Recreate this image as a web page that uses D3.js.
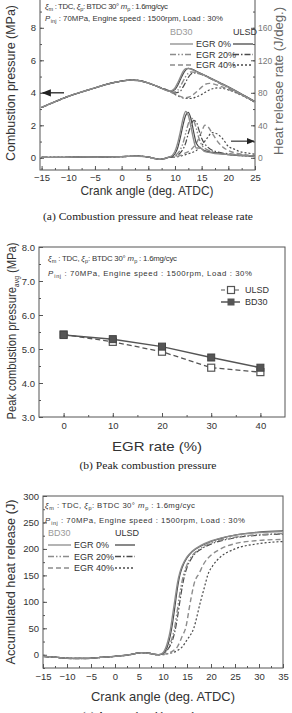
<!DOCTYPE html>
<html>
<head>
<meta charset="UTF-8">
<title>EGR combustion charts</title>
<script src="https://d3js.org/d3.v7.min.js"></script>
<style>
  body { margin: 0; background: #fff; }
  svg { display: block; font-family: "Liberation Sans", Arial, sans-serif; }
  .frame { fill: none; stroke: #555; stroke-width: 1; }
  .axis path { display: none; }
  .axis line { stroke: #555; }
  .axis text { font-size: 9.5px; fill: #333; font-family: "Liberation Sans", Arial, sans-serif; }
  .title { font-size: 13px; fill: #333; }
  .caption { font-family: "Liberation Serif", "Times New Roman", serif; font-size: 11px; fill: #222; }
  .note { font-size: 7.8px; fill: #333; }
  .leg { font-size: 9px; fill: #333; }
</style>
</head>
<body>
<svg id="fig" width="292" height="713"></svg>
<script>
// ---------- (a) combustion pressure (MPa) vs crank angle ----------
const pressMotor = [[-15,3.1],[-12.5,3.45],[-10,3.78],[-7.5,4.05],[-5,4.3],[-2.5,4.55],[0,4.72],[1.5,4.78],[3,4.76],[5,4.6],[7,4.35],[9,4.1]];
const pressBd0  = [[9.5,4.15],[10,4.3],[10.5,4.6],[11,4.95],[11.5,5.3],[12,5.48],[12.5,5.5],[14,5.3],[16,5.0],[18,4.68],[20,4.35],[22,4.0],[25,3.45]];
const pressUl0  = [[9.5,4.12],[10,4.2],[10.5,4.45],[11,4.8],[11.5,5.15],[12,5.4],[12.5,5.5],[13,5.48],[14,5.33],[16,5.02],[18,4.7],[20,4.37],[22,4.02],[25,3.47]];
const pressBd20 = [[9.5,4.05],[10,4.05],[10.5,4.15],[11,4.4],[11.5,4.7],[12,5.0],[12.5,5.2],[13,5.28],[14,5.25],[16,5.0],[18,4.65],[20,4.32],[22,3.98],[25,3.45]];
const pressUl20 = [[9.5,4.03],[10,4.0],[11,4.1],[11.5,4.35],[12,4.65],[12.5,4.95],[13,5.15],[13.5,5.22],[14.5,5.18],[16,4.98],[18,4.65],[20,4.32],[22,3.97],[25,3.43]];
const pressBd40 = [[9.5,4.0],[10,3.92],[11,3.78],[12,3.7],[13,3.78],[14,4.05],[15,4.35],[15.5,4.5],[16.5,4.58],[17.5,4.52],[19,4.35],[20,4.22],[22,3.93],[25,3.45]];
const pressUl40 = [[9.5,4.0],[10,3.9],[11,3.75],[12,3.65],[13,3.65],[14,3.75],[15,3.9],[16,4.1],[17,4.25],[18,4.3],[19,4.27],[20,4.18],[22,3.92],[25,3.42]];

// heat release rate (J/deg.)
const hrrPre  = [[-15,0.5],[-12,0.5],[-9,0.8],[-6,1],[-3,1.2],[0,1.5],[3,2],[4.5,1.5],[6,-0.5],[7,-1.8],[8,-1],[9,1]];
const hrrBd0  = [[9.5,3],[10,8],[10.5,18],[11,32],[11.5,48],[12,57],[12.5,52],[13,38],[13.5,22],[14,12],[14.8,12],[15.5,8],[17,6],[20,4],[23,3],[25,2]];
const hrrUl0  = [[9.5,2],[10,5],[10.5,12],[11,25],[11.5,40],[12,52],[12.5,56],[13,48],[13.5,32],[14,18],[15,11],[16,8],[18,6],[20,4],[25,2]];
const hrrBd20 = [[9.5,1.5],[10,3],[11,10],[11.5,18],[12,30],[12.5,42],[13,49],[13.5,46],[14,36],[14.5,24],[15,16],[16,10],[18,6],[20,4],[25,2]];
const hrrUl20 = [[9.5,1],[10,2],[11,6],[12,18],[12.5,30],[13,40],[13.5,46],[14,44],[14.5,34],[15,24],[16,14],[18,7],[20,5],[25,2]];
const hrrBd40 = [[9.5,0.5],[10,1],[11,3],[12,6],[13,10],[14,18],[15,32],[15.6,40],[16.2,38],[17,30],[18,20],[19,13],[20,9],[22,5],[25,2.5]];
const hrrUl40 = [[9.5,0.5],[10,1],[11,2],[12,4],[13,6],[14,9],[15,15],[16,24],[17,31],[18,29],[19,23],[20,14],[21,11],[22,8],[23.5,6],[25,4.5]];

// ---------- (b) peak combustion pressure ----------
const egrRates = [0, 10, 20, 30, 40];
const peakUlsd = [5.43, 5.21, 4.92, 4.45, 4.32];
const peakBd30 = [5.41, 5.29, 5.07, 4.75, 4.45];

// ---------- (c) accumulated heat release (J) ----------
const cumPre  = [[-15,-3],[-12,-5],[-9,-7],[-6,-7],[-3,-5],[0,-3],[3,0],[5.5,4],[7,3],[9,0]];
const cumBd0  = [[10,4],[11,25],[11.5,45],[12,75],[12.5,105],[13,135],[13.5,155],[14,168],[15,185],[16,195],[18,207],[20,215],[25,226],[30,231],[35,233]];
const cumUl0  = [[10,3],[11,18],[11.5,35],[12,60],[12.5,92],[13,125],[13.5,150],[14,165],[15,183],[16,194],[18,206],[20,214],[25,226],[30,232],[35,234]];
const cumBd20 = [[10,2],[11,12],[12,35],[12.5,55],[13,85],[13.5,115],[14,140],[14.5,158],[15,170],[16,186],[18,202],[20,211],[25,222],[30,227],[35,229]];
const cumUl20 = [[10,2],[11,10],[12,28],[12.5,45],[13,70],[13.5,100],[14,128],[14.5,150],[15,165],[16,183],[18,200],[20,209],[25,221],[30,226],[35,228]];
const cumBd40 = [[10,1],[11,3],[12,7],[13,15],[14,35],[14.7,50],[15.7,100],[16.5,135],[17.6,155],[18.5,172],[20,188],[22,200],[25,210],[30,216],[35,218]];
const cumUl40 = [[10,0],[11,2],[12,4],[13,8],[14,15],[15,28],[16.4,50],[17.8,100],[18.7,130],[19.3,150],[20.5,170],[22,185],[25,200],[30,210],[35,214]];

const legendRows = ["EGR 0%", "EGR 20%", "EGR 40%"];

const BD = "#8c8c8c", UL = "#4a4a4a";
const dashes = {
  bd: [null, "6,2,1.5,2,1.5,2", "5,3"],
  ul: [null, "6,2,1.5,2", "2,2"]
};

const svg = d3.select("#fig");
svg.append("rect").attr("width", 292).attr("height", 713).attr("fill", "#fff");

const defs = svg.append("defs");
defs.append("marker").attr("id", "arr").attr("viewBox", "0 0 10 10")
  .attr("refX", 9).attr("refY", 5).attr("markerWidth", 7).attr("markerHeight", 7)
  .attr("orient", "auto")
  .append("path").attr("d", "M0,1 L10,5 L0,9 Z").attr("fill", "#222");

function axisG(call, tx, ty) {
  return svg.append("g").attr("class", "axis")
    .attr("transform", `translate(${tx},${ty})`).call(call);
}

function vText(x, y, len, build) {
  const t = svg.append("text").attr("class", "title")
    .attr("transform", `translate(${x},${y}) rotate(-90)`)
    .attr("text-anchor", "middle")
    .attr("textLength", len).attr("lengthAdjust", "spacingAndGlyphs");
  build(t);
  return t;
}

// symbol with a subscript, as one text line
function sym(t, s, sub, rest) {
  t.append("tspan").attr("font-style", "italic").text(s);
  t.append("tspan").attr("font-size", "5.5px").attr("dx", 0.5).attr("dy", 2).text(sub);
  t.append("tspan").attr("dy", -2).text(rest);
}

function header(x, y1, y2, len1, len2) {
  const t1 = svg.append("text").attr("class", "note").attr("x", x).attr("y", y1)
    .attr("textLength", len1).attr("lengthAdjust", "spacing");
  sym(t1, "ξ", "m", " : TDC, ");
  sym(t1, "ξ", "p", ": BTDC 30° ");
  sym(t1, "m", "p", " : 1.6mg/cyc");

  const t2 = svg.append("text").attr("class", "note").attr("x", x).attr("y", y2)
    .attr("textLength", len2).attr("lengthAdjust", "spacing");
  sym(t2, "P", "inj", " : 70MPa, Engine speed : 1500rpm, Load : 30%");
}

function lineLegend(x0, yHead, rowYs, textX, x1) {
  svg.append("text").attr("class", "leg").attr("x", x0).attr("y", yHead + 3)
    .style("fill", "#9a9a9a").text("BD30");
  svg.append("text").attr("class", "leg").attr("x", x1).attr("y", yHead + 3)
    .style("fill", "#333").text("ULSD");
  legendRows.forEach((lab, i) => {
    const y = rowYs[i];
    svg.append("line").attr("x1", x0).attr("x2", textX - 3).attr("y1", y).attr("y2", y)
      .attr("stroke", BD).attr("stroke-width", 1.3).attr("stroke-dasharray", dashes.bd[i]);
    svg.append("text").attr("class", "leg").attr("x", textX).attr("y", y + 3).text(lab);
    svg.append("line").attr("x1", x1).attr("x2", x1 + 20).attr("y1", y).attr("y2", y)
      .attr("stroke", UL).attr("stroke-width", 1.3).attr("stroke-dasharray", dashes.ul[i]);
  });
}

function drawCurves(xs, ys, pre, bdArr, ulArr) {
  const line = d3.line().x(d => xs(d[0])).y(d => ys(d[1])).curve(d3.curveMonotoneX);
  [2, 1, 0].forEach(i => {
    svg.append("path").attr("d", line(pre.concat(ulArr[i])))
      .attr("fill", "none").attr("stroke", UL).attr("stroke-width", 1.2)
      .attr("stroke-dasharray", dashes.ul[i]);
    svg.append("path").attr("d", line(pre.concat(bdArr[i])))
      .attr("fill", "none").attr("stroke", BD).attr("stroke-width", 1.4)
      .attr("stroke-dasharray", dashes.bd[i]);
  });
}

// ===================== panel (a) =====================
const xA = d3.scaleLinear().domain([-15.3, 25]).range([40, 255]);
const yP = d3.scaleLinear().domain([-0.75, 10]).range([170, -4.7]);
const yH = d3.scaleLinear().domain([-15, 200]).range([170, -4.7]);

svg.append("rect").attr("class", "frame").attr("x", 40).attr("y", yP(10))
  .attr("width", 215).attr("height", 170 - yP(10));

axisG(d3.axisBottom(xA).tickValues(d3.range(-15, 25.1, 2.5)).tickSize(-2).tickFormat(""), 0, 170);
axisG(d3.axisBottom(xA).tickValues(d3.range(-15, 25.1, 5)).tickSize(-4).tickPadding(4), 0, 170);
axisG(d3.axisLeft(yP).tickValues(d3.range(0, 9.1, 1)).tickSize(-2).tickFormat(""), 40, 0);
axisG(d3.axisLeft(yP).tickValues([0, 2, 4, 6, 8]).tickSize(-4).tickPadding(4), 40, 0);
axisG(d3.axisRight(yH).tickValues(d3.range(0, 181, 20)).tickSize(-2).tickFormat(""), 255, 0);
axisG(d3.axisRight(yH).tickValues([0, 40, 80, 120, 160]).tickSize(-4).tickPadding(3), 255, 0)
  .selectAll("text").style("fill", "#777").style("font-size", "8.5px");

drawCurves(xA, yP, pressMotor, [pressBd0, pressBd20, pressBd40], [pressUl0, pressUl20, pressUl40]);
drawCurves(xA, yH, hrrPre, [hrrBd0, hrrBd20, hrrBd40], [hrrUl0, hrrUl20, hrrUl40]);

// arrows pointing to the axis each family belongs to
svg.append("line").attr("x1", xA(-10.8)).attr("x2", xA(-14.8)).attr("y1", yP(4)).attr("y2", yP(4))
  .attr("stroke", "#222").attr("stroke-width", 1.3).attr("marker-end", "url(#arr)");
svg.append("line").attr("x1", xA(20.5)).attr("x2", xA(24.8)).attr("y1", yH(20.5)).attr("y2", yH(20.5))
  .attr("stroke", "#222").attr("stroke-width", 1.1).attr("marker-end", "url(#arr)");

header(45, 8.5, 20.5, 123, 178);
lineLegend(170, 32, [44, 54.5, 65], 196, 233);

vText(15, 83, 156, t => t.text("Combustion pressure (MPa)"));
vText(283, 81, 148, t => t.style("fill", "#666").text("Heat release rate (J/deg.)"));
svg.append("text").attr("class", "title").attr("x", 147).attr("y", 195)
  .attr("text-anchor", "middle").attr("textLength", 133).attr("lengthAdjust", "spacingAndGlyphs")
  .text("Crank angle (deg. ATDC)");
svg.append("text").attr("class", "caption").attr("x", 148).attr("y", 220)
  .attr("text-anchor", "middle").attr("textLength", 210).attr("lengthAdjust", "spacingAndGlyphs")
  .text("(a) Combustion pressure and heat release rate");

// ===================== panel (b) =====================
const xB = d3.scaleLinear().domain([-5, 45]).range([39, 285]);
const yB = d3.scaleLinear().domain([3, 8]).range([417, 247]);

svg.append("rect").attr("class", "frame").attr("x", 39).attr("y", 247)
  .attr("width", 246).attr("height", 170);
axisG(d3.axisBottom(xB).tickValues(d3.range(0, 40.1, 5)).tickSize(-2).tickFormat(""), 0, 417);
axisG(d3.axisBottom(xB).tickValues(egrRates).tickSize(-4).tickPadding(5), 0, 417);
axisG(d3.axisLeft(yB).tickValues(d3.range(3, 8.01, 0.5)).tickSize(-2).tickFormat(""), 39, 0);
axisG(d3.axisLeft(yB).tickValues([3, 4, 5, 6, 7, 8]).tickSize(-4).tickPadding(4), 39, 0);

const lineB = d3.line().x((d, i) => xB(egrRates[i])).y(d => yB(d));
svg.append("path").attr("d", lineB(peakUlsd)).attr("fill", "none")
  .attr("stroke", "#555").attr("stroke-width", 1.3).attr("stroke-dasharray", "5,3");
svg.append("path").attr("d", lineB(peakBd30)).attr("fill", "none")
  .attr("stroke", "#555").attr("stroke-width", 1.5);
svg.selectAll(".sqU").data(peakUlsd).enter().append("rect").attr("class", "sqU")
  .attr("x", (d, i) => xB(egrRates[i]) - 3.5).attr("y", d => yB(d) - 3.5)
  .attr("width", 7).attr("height", 7).attr("fill", "#fff").attr("stroke", "#555").attr("stroke-width", 1.2);
svg.selectAll(".sqB").data(peakBd30).enter().append("rect").attr("class", "sqB")
  .attr("x", (d, i) => xB(egrRates[i]) - 3.5).attr("y", d => yB(d) - 3.5)
  .attr("width", 7).attr("height", 7).attr("fill", "#555").attr("stroke", "#444");

header(48, 261, 276, 129, 204);

// legend (b)
svg.append("line").attr("x1", 221).attr("x2", 240).attr("y1", 290).attr("y2", 290)
  .attr("stroke", "#555").attr("stroke-width", 1.2).attr("stroke-dasharray", "4,3");
svg.append("rect").attr("x", 227.5).attr("y", 286.5).attr("width", 7).attr("height", 7)
  .attr("fill", "#fff").attr("stroke", "#555").attr("stroke-width", 1.2);
svg.append("text").attr("class", "leg").attr("x", 245).attr("y", 293).text("ULSD");
svg.append("line").attr("x1", 221).attr("x2", 240).attr("y1", 302).attr("y2", 302)
  .attr("stroke", "#555").attr("stroke-width", 1.5);
svg.append("rect").attr("x", 227.5).attr("y", 298.5).attr("width", 7).attr("height", 7)
  .attr("fill", "#555");
svg.append("text").attr("class", "leg").attr("x", 245).attr("y", 305).text("BD30");

vText(16, 331, 177, t => {
  t.append("tspan").text("Peak combustion pressure");
  t.append("tspan").attr("font-size", "8px").attr("dy", 3).text("avg");
  t.append("tspan").attr("dy", -3).text(" (MPa)");
});
svg.append("text").attr("class", "title").attr("x", 157).attr("y", 451)
  .attr("text-anchor", "middle").attr("textLength", 90).attr("lengthAdjust", "spacingAndGlyphs")
  .text("EGR rate (%)");
svg.append("text").attr("class", "caption").attr("x", 148).attr("y", 469)
  .attr("text-anchor", "middle").attr("textLength", 137).attr("lengthAdjust", "spacingAndGlyphs")
  .text("(b) Peak combustion pressure");

// ===================== panel (c) =====================
const xC = d3.scaleLinear().domain([-15, 35]).range([43, 283]);
const yC = d3.scaleLinear().domain([-25, 300]).range([668, 496]);

svg.append("rect").attr("class", "frame").attr("x", 43).attr("y", 496)
  .attr("width", 240).attr("height", 172);
axisG(d3.axisBottom(xC).tickValues(d3.range(-15, 35.1, 2.5)).tickSize(-2).tickFormat(""), 0, 668);
axisG(d3.axisBottom(xC).tickValues(d3.range(-15, 35.1, 5)).tickSize(-4).tickPadding(5), 0, 668);
axisG(d3.axisLeft(yC).tickValues(d3.range(-25, 300, 25)).tickSize(-2).tickFormat(""), 43, 0);
axisG(d3.axisLeft(yC).tickValues(d3.range(0, 301, 50)).tickSize(-4).tickPadding(4), 43, 0);

drawCurves(xC, yC, cumPre, [cumBd0, cumBd20, cumBd40], [cumUl0, cumUl20, cumUl40]);

header(45, 508, 523, 150, 200);
lineLegend(48, 533, [545, 556.5, 568], 74, 115);

vText(15, 582, 165, t => t.text("Accumulated heat release (J)"));
svg.append("text").attr("class", "title").attr("x", 163).attr("y", 701)
  .attr("text-anchor", "middle").attr("textLength", 144).attr("lengthAdjust", "spacingAndGlyphs")
  .text("Crank angle (deg. ATDC)");
svg.append("text").attr("class", "caption").attr("x", 148).attr("y", 719)
  .attr("text-anchor", "middle").attr("textLength", 132).attr("lengthAdjust", "spacingAndGlyphs")
  .text("(c) Accumulated heat release");
</script>
</body>
</html>
